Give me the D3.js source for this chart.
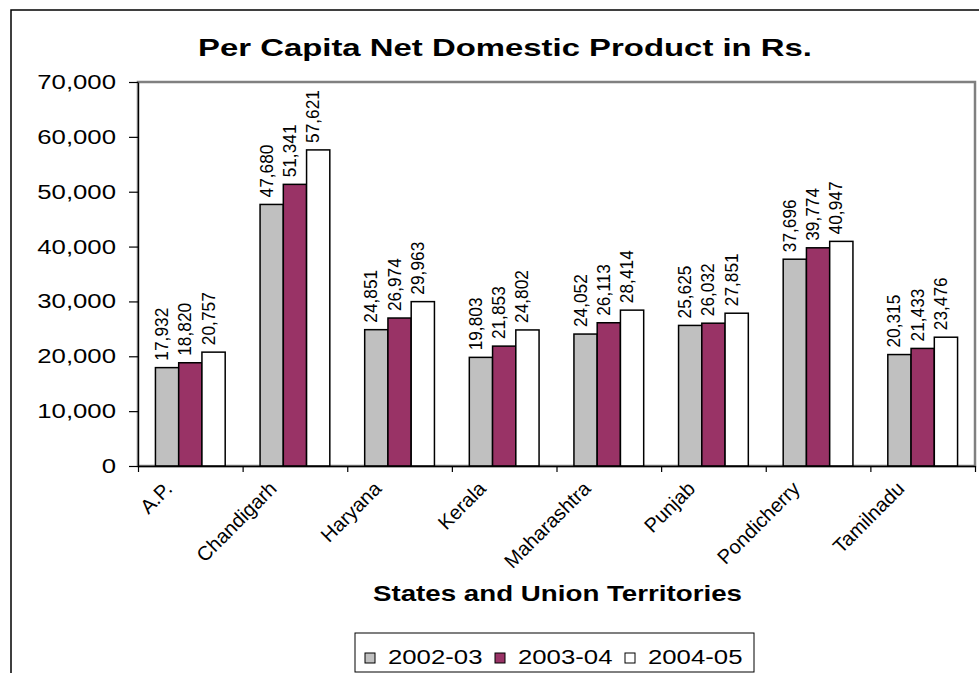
<!DOCTYPE html>
<html>
<head>
<meta charset="utf-8">
<script src="https://cdn.jsdelivr.net/npm/d3@7"></script>
<style>
  body { margin: 0; background: #fff; }
  svg text { font-family: Arial, "Liberation Sans", sans-serif; fill: #000; }
</style>
</head>
<body>
<div id="chart"></div>
<script>
// data
var states = ["A.P.", "Chandigarh", "Haryana", "Kerala", "Maharashtra", "Punjab", "Pondicherry", "Tamilnadu"];
var years = ["2002-03", "2003-04", "2004-05"];
var v2002 = [17932, 47680, 24851, 19803, 24052, 25625, 37696, 20315];
var v2003 = [18820, 51341, 26974, 21853, 26113, 26032, 39774, 21433];
var v2004 = [20757, 57621, 29963, 24802, 28414, 27851, 40947, 23476];
var yTicks = [0, 10000, 20000, 30000, 40000, 50000, 60000, 70000];
var colors = ["#C0C0C0", "#993366", "#FFFFFF"];

var W = 979, H = 673;
var plot = {left: 138, right: 975, top: 82, bottom: 466};
var stretch = 1.32; // the picture's horizontal text stretch

var svg = d3.select("#chart").append("svg")
    .attr("width", W)
    .attr("height", H);

// chart frame
svg.append("rect")
    .attr("x", 11).attr("y", 10)
    .attr("width", 1000).attr("height", 700)
    .attr("fill", "#fff")
    .attr("stroke", "#000")
    .attr("stroke-width", 1.5);

// title
svg.append("text")
    .attr("x", 198).attr("y", 56)
    .attr("textLength", 614)
    .attr("lengthAdjust", "spacingAndGlyphs")
    .attr("font-size", 24.5)
    .attr("font-weight", "bold")
    .text("Per Capita Net Domestic Product in Rs.");

// scales
var x = d3.scaleBand()
    .domain(states)
    .range([plot.left, plot.right]);

var xs = d3.scaleBand()
    .domain(years)
    .range([0, x.bandwidth()])
    .paddingOuter(0.75);

var y = d3.scaleLinear()
    .domain([0, 70000])
    .range([plot.bottom, plot.top]);

// plot area border
svg.append("rect")
    .attr("x", plot.left).attr("y", plot.top)
    .attr("width", plot.right - plot.left)
    .attr("height", plot.bottom - plot.top)
    .attr("fill", "none")
    .attr("stroke", "#808080")
    .attr("stroke-width", 2.5);

// bars + labels
var series = [v2002, v2003, v2004];
var rows = [];
series.forEach(function(vals, i) {
    vals.forEach(function(v, j) {
        rows.push({state: states[j], year: years[i], value: v, color: colors[i]});
    });
});

svg.selectAll("rect.bar")
    .data(rows)
    .enter()
    .append("rect")
        .attr("class", "bar")
        .attr("x", function(d) { return x(d.state) + xs(d.year); })
        .attr("y", function(d) { return y(d.value); })
        .attr("width", xs.bandwidth())
        .attr("height", function(d) { return y(0) - y(d.value); })
        .attr("fill", function(d) { return d.color; })
        .attr("stroke", "#000")
        .attr("stroke-width", 1.5);

svg.selectAll("text.val")
    .data(rows)
    .enter()
    .append("text")
        .attr("class", "val")
        .attr("transform", function(d) {
            var cx = x(d.state) + xs(d.year) + xs.bandwidth() / 2 + 1;
            return "translate(" + cx + "," + (y(d.value) - 7) + ") scale(1.1,1) rotate(-90)";
        })
        .attr("font-size", 17.3)
        .text(function(d) { return d3.format(",")(d.value); });

// y axis
var yAxis = svg.append("g")
    .attr("transform", "translate(" + plot.left + ",0)")
    .call(d3.axisLeft(y)
        .tickValues(yTicks)
        .tickSize(9)
        .tickSizeOuter(0)
        .tickFormat(""));
yAxis.select(".domain").attr("stroke", "#000").attr("stroke-width", 1.2);
yAxis.selectAll(".tick line").attr("stroke", "#000").attr("stroke-width", 1.2);

svg.selectAll("text.ytick")
    .data(yTicks)
    .enter()
    .append("text")
        .attr("class", "ytick")
        .attr("transform", function(d) { return "translate(116," + y(d) + ") scale(" + stretch + ",1)"; })
        .attr("text-anchor", "end")
        .attr("dy", "0.36em")
        .attr("font-size", 19.5)
        .text(function(d) { return d3.format(",")(d); });

// x axis, ticks at category boundaries
var xb = d3.scaleLinear().domain([0, states.length]).range([plot.left, plot.right]);
var xAxis = svg.append("g")
    .attr("transform", "translate(0," + plot.bottom + ")")
    .call(d3.axisBottom(xb)
        .tickValues(d3.range(states.length + 1))
        .tickSize(6)
        .tickSizeOuter(0)
        .tickFormat(""));
xAxis.select(".domain").attr("stroke", "#000").attr("stroke-width", 1.5);
xAxis.selectAll(".tick line").attr("stroke", "#000").attr("stroke-width", 1.2);

svg.selectAll("text.cat")
    .data(states)
    .enter()
    .append("text")
        .attr("class", "cat")
        .attr("transform", function(d) {
            return "translate(" + (x(d) + x.bandwidth() / 2 - 17) + "," + (plot.bottom + 24) + ") rotate(-45)";
        })
        .attr("text-anchor", "end")
        .attr("font-size", 20)
        .text(function(d) { return d; });

// axis title
svg.append("text")
    .attr("x", 373).attr("y", 601)
    .attr("textLength", 369)
    .attr("lengthAdjust", "spacingAndGlyphs")
    .attr("font-size", 21.5)
    .attr("font-weight", "bold")
    .text("States and Union Territories");

// legend
var legend = svg.append("g");
legend.append("rect")
    .attr("x", 355).attr("y", 633)
    .attr("width", 399).attr("height", 39)
    .attr("fill", "#fff")
    .attr("stroke", "#000")
    .attr("stroke-width", 1);

var legX = [365, 495, 625];
years.forEach(function(yr, i) {
    legend.append("rect")
        .attr("x", legX[i]).attr("y", 653)
        .attr("width", 10).attr("height", 10)
        .attr("fill", colors[i])
        .attr("stroke", "#000")
        .attr("stroke-width", 1);
    legend.append("text")
        .attr("transform", "translate(" + (legX[i] + 23) + ",664) scale(" + stretch + ",1)")
        .attr("font-size", 19.5)
        .text(yr);
});
</script>
</body>
</html>
